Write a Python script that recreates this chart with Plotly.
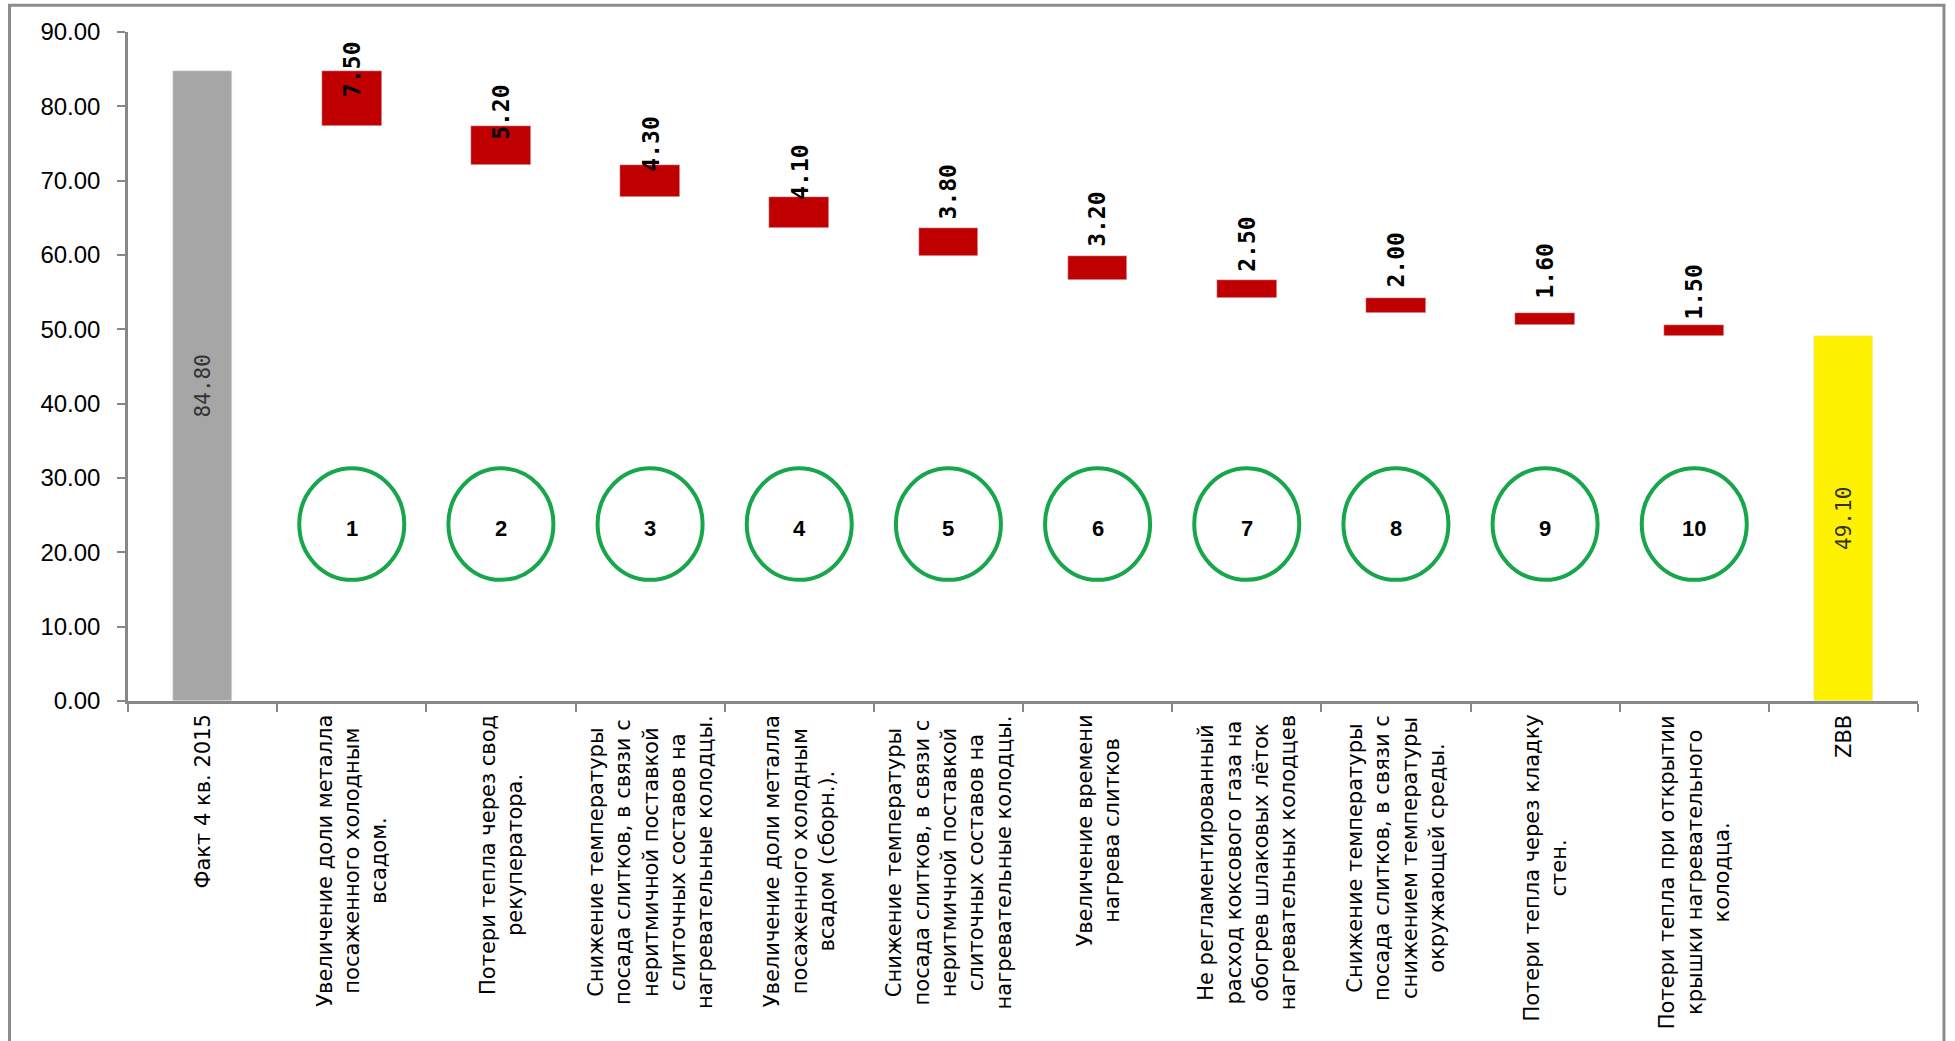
import plotly.graph_objects as go

# ---- data -------------------------------------------------------------
start_label = "Факт 4 кв. 2015"
end_label = "ZBB"
start_value = 84.80

factor_labels = [
    "Увеличение доли металла<br>посаженного холодным<br>всадом.",
    "Потери тепла через свод<br>рекуператора.",
    "Снижение температуры<br>посада слитков, в связи с<br>неритмичной поставкой<br>слиточных составов на<br>нагревательные колодцы.",
    "Увеличение доли металла<br>посаженного холодным<br>всадом (сборн.).",
    "Снижение температуры<br>посада слитков, в связи с<br>неритмичной поставкой<br>слиточных составов на<br>нагревательные колодцы.",
    "Увеличение времени<br>нагрева слитков",
    "Не регламентированный<br>расход коксового газа на<br>обогрев шлаковых лёток<br>нагревательных колодцев",
    "Снижение температуры<br>посада слитков, в связи с<br>снижением температуры<br>окружающей среды.",
    "Потери тепла через кладку<br>стен.",
    "Потери тепла при открытии<br>крышки нагревательного<br>колодца.",
]
factor_values = [7.50, 5.20, 4.30, 4.10, 3.80, 3.20, 2.50, 2.00, 1.60, 1.50]
factor_numbers = ["1", "2", "3", "4", "5", "6", "7", "8", "9", "10"]

y_ticks = [0, 10, 20, 30, 40, 50, 60, 70, 80, 90]

# vertical nudge (px) of each step's value label relative to the bar top
label_nudge = [-28, -15, -9, -5, 6, 7, 6, 9, 12, 3]

# ---- derived waterfall geometry ---------------------------------------
n_steps = len(factor_values)
end_value = round(start_value - sum(factor_values), 2)

bases, level = [], start_value
for v in factor_values:
    level -= v
    bases.append(level)

x_start = [0]
x_steps = list(range(1, n_steps + 1))
x_end = [n_steps + 1]
all_labels = [start_label] + factor_labels + [end_label]

GREY = "#A6A6A6"
RED = "#C00000"
YELLOW = "#FFF200"
GREEN = "#17A64B"
AXIS = "#878787"
BAR_W = 0.4

fig = go.Figure()
fig.add_trace(go.Bar(x=x_start, y=[start_value], marker_color=GREY,
                     width=BAR_W, hoverinfo="skip"))
fig.add_trace(go.Bar(x=x_steps, y=factor_values, base=bases, marker_color=RED,
                     width=BAR_W, hoverinfo="skip"))
fig.add_trace(go.Bar(x=x_end, y=[end_value], marker_color=YELLOW,
                     width=BAR_W, hoverinfo="skip"))

annotations = []

# totals written vertically inside the grey and yellow columns
for x, v in ((x_start[0], start_value), (x_end[0], end_value)):
    annotations.append(dict(
        x=x, y=v / 2, xref="x", yref="y", text=f"{v:.2f}", textangle=-90,
        showarrow=False, font=dict(family="DejaVu Sans Mono", size=21, color="#333333"),
    ))

# step values written vertically at the top of each red bar
for x, b, v, dy in zip(x_steps, bases, factor_values, label_nudge):
    annotations.append(dict(
        x=x, y=b + v, xref="x", yref="y", text=f"<b>{v:.2f}</b>", textangle=-90,
        yanchor="bottom", yshift=dy, showarrow=False,
        font=dict(family="DejaVu Sans Mono", size=23, color="black"),
    ))

# numbered green circles under each factor
CIRCLE_MID = 23.8
CIRCLE_HALF_H = 7.5
CIRCLE_HALF_W = 0.352
shapes = []
for x, num in zip(x_steps, factor_numbers):
    shapes.append(dict(
        type="circle", xref="x", yref="y",
        x0=x - CIRCLE_HALF_W, x1=x + CIRCLE_HALF_W,
        y0=CIRCLE_MID - CIRCLE_HALF_H, y1=CIRCLE_MID + CIRCLE_HALF_H,
        line=dict(color=GREEN, width=4), layer="above",
    ))
    annotations.append(dict(
        x=x, y=CIRCLE_MID - 0.6, xref="x", yref="y", text=f"<b>{num}</b>",
        showarrow=False, font=dict(family="Liberation Sans Narrow, Liberation Sans",
                                   size=22, color="black"),
    ))

# category captions, rotated and centred line by line
for x, lab in zip(x_start + x_steps + x_end, all_labels):
    annotations.append(dict(
        x=x, y=0, xref="x", yref="y", text=lab, textangle=-90, align="center",
        yanchor="top", yshift=-12, showarrow=False,
        font=dict(family="DejaVu Sans", size=21, color="black"),
    ))

# outer frame around the chart
shapes.append(dict(
    type="rect", xref="paper", yref="paper",
    x0=-0.0662, x1=1.0145, y0=-0.6, y1=1.0400,
    line=dict(color="#8C8C8C", width=3), fillcolor="rgba(0,0,0,0)", layer="below",
))

fig.update_layout(
    width=1955, height=1041,
    margin=dict(l=128, r=37, t=32, b=340),
    paper_bgcolor="white", plot_bgcolor="white",
    showlegend=False, bargap=0,
    annotations=annotations, shapes=shapes,
)

fig.update_xaxes(
    range=[-0.5, n_steps + 1.5],
    tickvals=[i - 0.5 for i in range(n_steps + 3)],
    ticktext=[""] * (n_steps + 3),
    ticks="outside", ticklen=8, tickwidth=2, tickcolor=AXIS,
    showline=True, linecolor=AXIS, linewidth=2.5,
    showgrid=False, zeroline=False, fixedrange=True,
)
fig.update_yaxes(
    range=[0, 90], tickvals=y_ticks, tickformat=".2f",
    ticks="outside", ticklen=8, tickwidth=2, tickcolor=AXIS,
    showline=True, linecolor=AXIS, linewidth=2.5,
    showgrid=False, zeroline=False, fixedrange=True,
    ticklabelstandoff=12,
    tickfont=dict(family="Liberation Sans Narrow, Liberation Sans", size=24, color="black"),
)

fig.write_html("out.html")
